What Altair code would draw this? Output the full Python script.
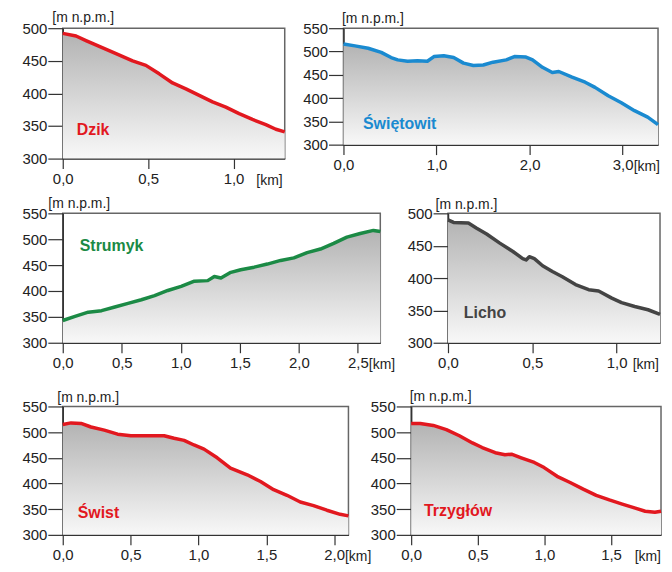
import altair as alt
import pandas as pd

FONT = "Liberation Sans"

# ---- data (distance in km, elevation in m a.s.l.) ----
dzik_km = [0.0, 0.078, 0.136, 0.214, 0.312, 0.409, 0.487, 0.565, 0.643, 0.721, 0.799,
           0.877, 0.955, 1.033, 1.111, 1.189, 1.248, 1.3]
dzik_m = [492, 488, 481, 472, 461, 450, 443, 430, 416, 407, 397, 387, 379, 369, 360, 352, 345, 341]

swietowit_km = [0.0, 0.124, 0.265, 0.406, 0.512, 0.583, 0.689, 0.795, 0.901, 0.972, 1.078,
                1.184, 1.290, 1.396, 1.502, 1.608, 1.749, 1.837, 1.961, 2.032, 2.138, 2.244,
                2.314, 2.456, 2.597, 2.703, 2.845, 2.986, 3.127, 3.269, 3.38]
swietowit_m = [516, 512, 507, 498, 487, 482, 479, 480, 479, 489, 491, 487, 475, 470, 471, 477,
               482, 489, 488, 482, 466, 455, 457, 445, 434, 423, 405, 390, 373, 359, 343]

strumyk_km = [0.0, 0.104, 0.216, 0.329, 0.441, 0.553, 0.666, 0.778, 0.890, 1.003, 1.115, 1.228,
              1.284, 1.340, 1.424, 1.508, 1.621, 1.733, 1.846, 1.958, 2.070, 2.183, 2.295,
              2.407, 2.520, 2.632, 2.69]
strumyk_m = [343, 351, 359, 362, 369, 376, 383, 391, 401, 409, 419, 420, 428, 425, 436, 441,
             446, 452, 459, 464, 474, 481, 492, 504, 511, 517, 515]

licho_km = [0.0, 0.033, 0.121, 0.170, 0.229, 0.307, 0.385, 0.443, 0.463, 0.482, 0.512, 0.561,
            0.619, 0.678, 0.756, 0.834, 0.893, 0.971, 1.029, 1.107, 1.186, 1.257]
licho_m = [490, 486, 485, 477, 468, 454, 441, 430, 428, 433, 430, 419, 410, 402, 390, 382,
           380, 369, 362, 356, 351, 344]

swist_km = [0.0, 0.061, 0.135, 0.208, 0.306, 0.404, 0.502, 0.600, 0.747, 0.820, 0.894, 0.967,
            1.041, 1.138, 1.236, 1.359, 1.457, 1.554, 1.652, 1.750, 1.848, 1.946, 2.044, 2.105]
swist_m = [515, 518, 517, 510, 504, 496, 493, 493, 493, 488, 484, 475, 467, 450, 430, 417,
           404, 388, 377, 364, 357, 348, 340, 337]

trzyglow_km = [0.0, 0.068, 0.166, 0.264, 0.362, 0.460, 0.533, 0.631, 0.704, 0.753, 0.826,
               0.924, 0.998, 1.095, 1.193, 1.291, 1.389, 1.487, 1.584, 1.682, 1.756, 1.829, 1.875]
trzyglow_m = [517, 517, 513, 505, 493, 479, 470, 460, 456, 457, 450, 441, 431, 414, 402, 389,
              377, 368, 360, 352, 346, 344, 346]

names = ["Dzik", "Świętowit", "Strumyk", "Licho", "Świst", "Trzygłów"]
label_km = [0.082, 0.21, 0.144, 0.094, 0.11, 0.096]
label_m = [344, 345, 487, 346, 343, 347]
x_max = [1.3, 3.38, 2.69, 1.257, 2.105, 1.875]
y_max = [500, 550, 550, 500, 550, 550]
x_ticks = [[0, 0.5, 1.0], [0, 1, 2, 3], [0, 0.5, 1.0, 1.5, 2.0, 2.5],
           [0, 0.5, 1.0], [0, 0.5, 1.0, 1.5, 2.0], [0, 0.5, 1.0, 1.5]]
colors = ["#e2181f", "#1a8ad0", "#1b8a45", "#444444", "#e2181f", "#e2181f"]

series = [(dzik_km, dzik_m), (swietowit_km, swietowit_m), (strumyk_km, strumyk_m),
          (licho_km, licho_m), (swist_km, swist_m), (trzyglow_km, trzyglow_m)]

# ---- layout ----
widths = [223, 316, 319, 213, 287, 251]
heights = [131, 117, 130, 130, 129, 129]
ytitle_x = [-11, -2, -15, -13, -6, -2]
ytitle_y = [-11, -10, -10, -9, -9, -10]
xtitle_x = [194, 291, 307, 185, 283, 224]

gradient = alt.Gradient(
    gradient="linear",
    stops=[alt.GradientStop(color="#f8f8f8", offset=0),
           alt.GradientStop(color="#b3b3b3", offset=1)],
    x1=1, x2=1, y1=1, y2=0,
)


def panel(i):
    km, m = series[i]
    df = pd.DataFrame({"km": km, "m": m})
    xs = alt.Scale(domain=[0, x_max[i]], nice=False, zero=True)
    ys = alt.Scale(domain=[300, y_max[i]], nice=False, zero=False)
    y_vals = list(range(300, y_max[i] + 1, 50))
    x = alt.X("km:Q", scale=xs, axis=alt.Axis(
        values=x_ticks[i], labelOverlap=False, labelFlush=False, tickCount=len(x_ticks[i]),
        labelExpr="replace(format(datum.value, '.1f'), '.', ',')",
        title="[km]", titleX=xtitle_x[i], titleY=22, titleAlign="left",
        titleBaseline="middle", titleAngle=0, tickSize=10, labelPadding=3))
    y = alt.Y("m:Q", scale=ys, axis=alt.Axis(
        values=y_vals, labelOverlap=False, labelFlush=False, tickCount=len(y_vals),
        title="[m n.p.m.]", titleX=ytitle_x[i], titleY=ytitle_y[i], titleAlign="left",
        titleBaseline="middle", titleAngle=0, tickSize=15, labelPadding=1))
    base = alt.Chart(df)
    area = base.mark_area(color=gradient).encode(x=x, y=y, y2=alt.datum(300))
    line = base.mark_line(color=colors[i], strokeWidth=3.5, strokeJoin="round").encode(x=x, y=y)
    lab = alt.Chart(pd.DataFrame({"km": [label_km[i]], "m": [label_m[i]], "t": [names[i]]})).mark_text(
        align="left", baseline="middle", fontWeight="bold", fontSize=16, font=FONT,
        color=colors[i]).encode(x=x, y=y, text="t:N")
    return alt.layer(area, line, lab).properties(width=widths[i], height=heights[i])


row1 = alt.hconcat(panel(0), panel(1), spacing=59, bounds="flush")
row2 = alt.hconcat(panel(2), panel(3), spacing=68, bounds="flush")
row3 = alt.hconcat(panel(4), panel(5), spacing=63, bounds="flush")

top = alt.vconcat(row1, row2, spacing=7)
chart = alt.vconcat(top, row3, spacing=16).properties(
    padding={"left": 13, "top": 0, "right": 0, "bottom": 0}
).configure_view(
    stroke="#666666", strokeWidth=1.5
).configure_axis(
    grid=False, labelFont=FONT, labelFontSize=15, labelColor="#222222",
    titleFont=FONT, titleFontSize=14, titleFontWeight="normal", titleColor="#222222",
    tickColor="#333333", tickWidth=1.2, domainColor="#333333", domainWidth=1.5,
)

chart.save("out.html", embed_options={"renderer": "svg", "actions": False})
